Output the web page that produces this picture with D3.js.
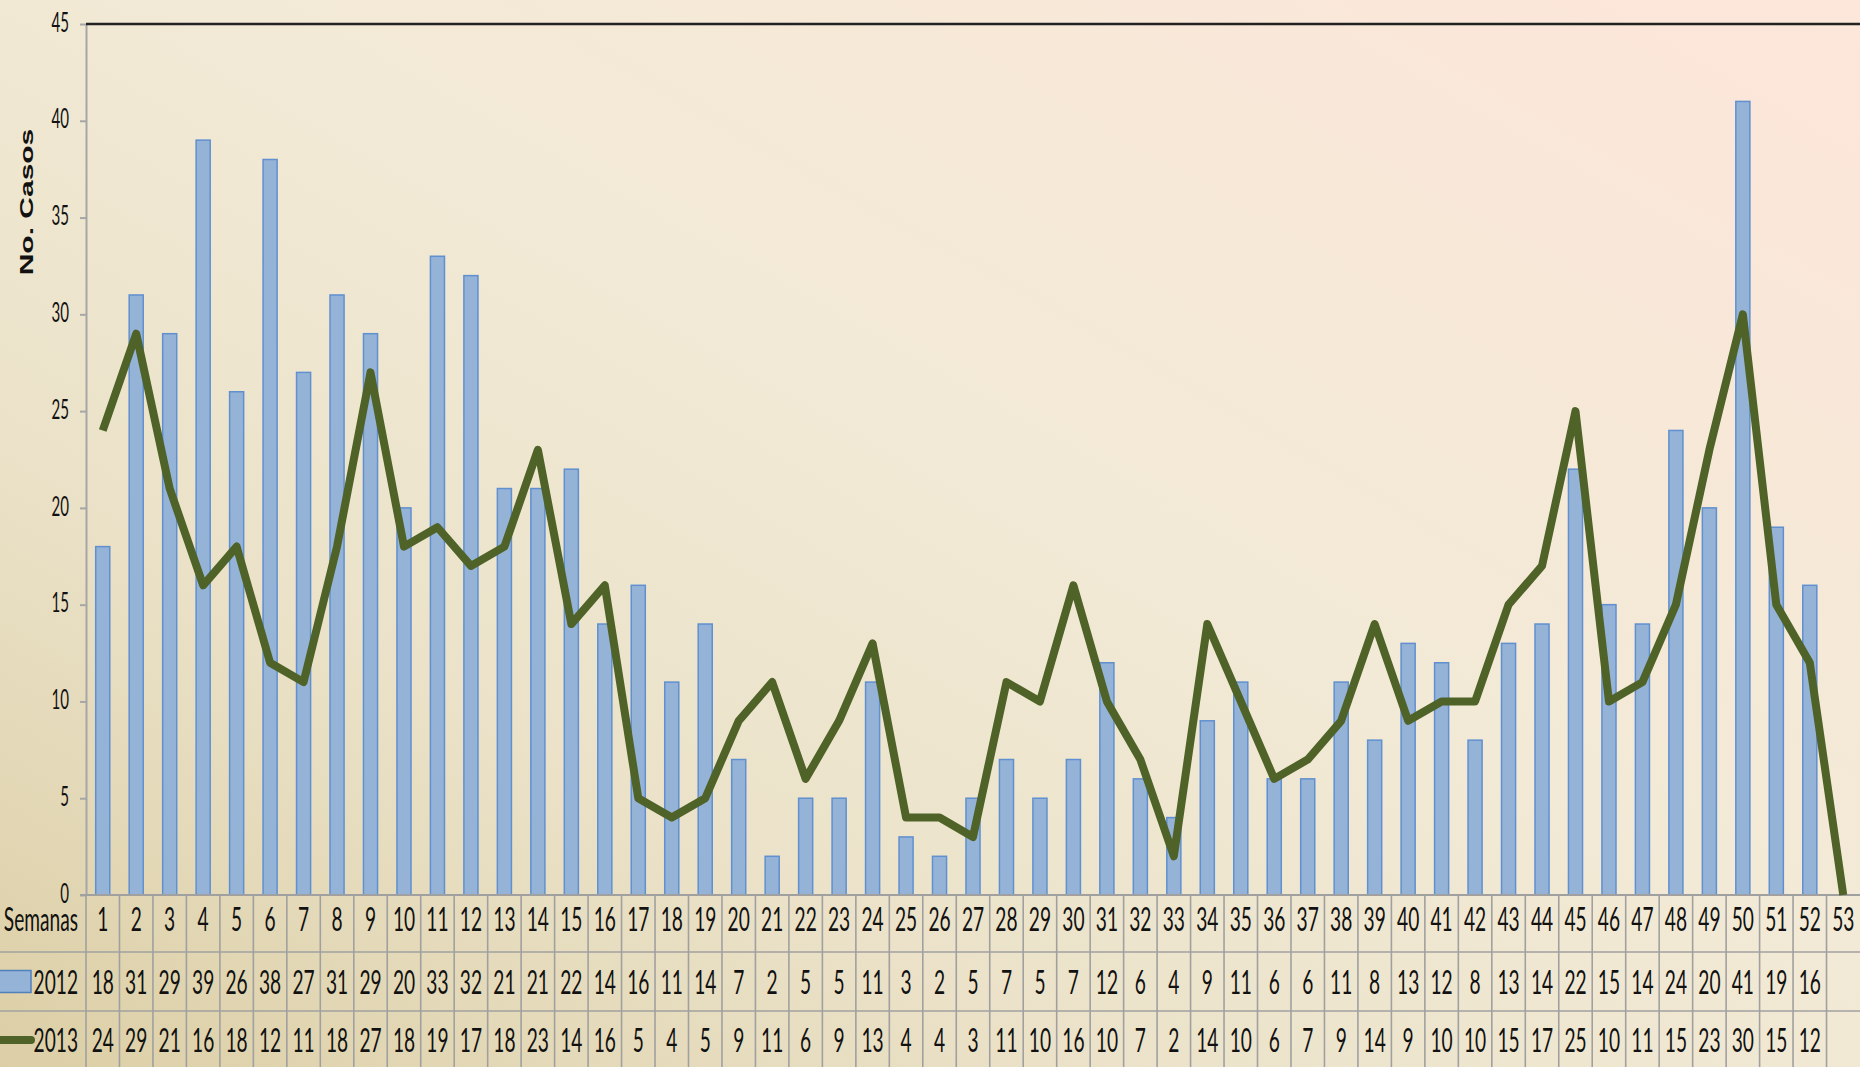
<!DOCTYPE html>
<html>
<head>
<meta charset="utf-8">
<script src="https://cdn.jsdelivr.net/npm/d3@7"></script>
<style>
  html, body { margin: 0; padding: 0; overflow: hidden; }
  text { font-family: Lato, "DejaVu Sans", sans-serif; fill: #111; }
</style>
</head>
<body>
<div id="chart"></div>
<script>
// weekly cases, 2012 vs 2013
const weeks = [1,2,3,4,5,6,7,8,9,10,11,12,13,14,15,16,17,18,19,20,21,22,23,24,25,26,27,
               28,29,30,31,32,33,34,35,36,37,38,39,40,41,42,43,44,45,46,47,48,49,50,51,52,53];
const cases2012 = [18,31,29,39,26,38,27,31,29,20,33,32,21,21,22,14,16,11,14,7,2,5,5,11,3,2,5,
                   7,5,7,12,6,4,9,11,6,6,11,8,13,12,8,13,14,22,15,14,24,20,41,19,16,null];
const cases2013 = [24,29,21,16,18,12,11,18,27,18,19,17,18,23,14,16,5,4,5,9,11,6,9,13,4,4,3,
                   11,10,16,10,7,2,14,10,6,7,9,14,9,10,10,15,17,25,10,11,15,23,30,15,12,null];
const yTicks = [0,5,10,15,20,25,30,35,40,45];
const seriesNames = ["2012", "2013"];

const W = 1860, H = 1067;
const plotLeft = 86, plotTop = 24, plotBottom = 895;
const rowLines = [895, 952, 1011, 1067];
const rowShift = [-5, 0, 0];
const squeeze = 0.58; // the picture is squashed sideways

let svg = d3.select("#chart").append("svg")
    .attr("width", W)
    .attr("height", H);

let grad = svg.append("defs").append("linearGradient")
    .attr("id", "bg")
    .attr("x1", "0").attr("y1", "1")
    .attr("x2", "1").attr("y2", "0");
grad.append("stop").attr("offset", "0").attr("stop-color", "#dccfa6");
grad.append("stop").attr("offset", "0.3").attr("stop-color", "#ebe2c9");
grad.append("stop").attr("offset", "0.55").attr("stop-color", "#f2ead6");
grad.append("stop").attr("offset", "1").attr("stop-color", "#fde6da");

svg.append("rect")
    .attr("width", W)
    .attr("height", H)
    .attr("fill", "url(#bg)");

let x = d3.scaleBand()
    .domain(weeks)
    .range([plotLeft, W]);

let y = d3.scaleLinear()
    .domain([0, 45])
    .range([plotBottom, plotTop]);

let bw = x.bandwidth();

// y axis
let yAxis = d3.axisLeft(y).tickValues(yTicks).tickSize(6).tickSizeOuter(0).tickFormat(d3.format("d"));
let gy = svg.append("g")
    .attr("transform", "translate(" + plotLeft + ",0)")
    .call(yAxis);
gy.select(".domain").attr("stroke", "#a6a6a6").attr("stroke-width", 2);
gy.selectAll(".tick line").attr("stroke", "#a6a6a6").attr("stroke-width", 2);
gy.selectAll(".tick text").remove();
gy.selectAll(".tick").append("text")
    .attr("transform", "translate(-17,-2) scale(" + squeeze + ",1)")
    .attr("dy", "0.35em")
    .style("text-anchor", "end")
    .style("font-size", "26px")
    .text(function(d) { return d; });

// top border
svg.append("line")
    .attr("x1", plotLeft).attr("x2", W)
    .attr("y1", plotTop).attr("y2", plotTop)
    .attr("stroke", "#222")
    .attr("stroke-width", 2.5);

svg.append("text")
    .attr("transform", "translate(26,202) rotate(-90) scale(1,0.62)")
    .attr("dy", "0.35em")
    .style("text-anchor", "middle")
    .style("font-family", "'Liberation Sans', Arial, sans-serif")
    .style("font-weight", "bold")
    .style("font-size", "30px")
    .text("No. Casos");

// bars 2012
svg.selectAll(".bar")
    .data(weeks.map(function(w, i) { return {week: w, v: cases2012[i]}; }).filter(function(d) { return d.v != null; }))
    .enter().append("rect")
    .attr("class", "bar")
    .attr("x", function(d) { return x(d.week) + bw * 0.29; })
    .attr("width", bw * 0.42)
    .attr("y", function(d) { return y(d.v); })
    .attr("height", function(d) { return y(0) - y(d.v); })
    .attr("fill", "#95b3d7")
    .attr("stroke", "#6090cf")
    .attr("stroke-width", 1.5);

// table grid
let grid = svg.append("g").attr("stroke", "#a0a0a0").attr("stroke-width", 1.6);
grid.append("line")
    .attr("x1", plotLeft - 6).attr("x2", W)
    .attr("y1", rowLines[0]).attr("y2", rowLines[0])
    .attr("stroke-width", 2);
grid.selectAll(".hrow")
    .data(rowLines.slice(1, 3))
    .enter().append("line")
    .attr("x1", 0).attr("x2", W)
    .attr("y1", function(d) { return d; }).attr("y2", function(d) { return d; });
grid.selectAll(".vcol")
    .data(weeks)
    .enter().append("line")
    .attr("x1", function(d) { return x(d); }).attr("x2", function(d) { return x(d); })
    .attr("y1", rowLines[0]).attr("y2", H);

// line 2013 (empty cells drawn as zero)
let line = d3.line()
    .x(function(d) { return x(d.week) + bw / 2; })
    .y(function(d) { return y(d.v == null ? 0 : d.v); });

svg.append("path")
    .datum(weeks.map(function(w, i) { return {week: w, v: cases2013[i]}; }))
    .attr("d", line)
    .attr("fill", "none")
    .attr("stroke", "#4f6228")
    .attr("stroke-width", 8)
    .attr("stroke-linejoin", "round");

// table text
let rows = [
    {label: "Semanas", values: weeks},
    {label: seriesNames[0], values: cases2012},
    {label: seriesNames[1], values: cases2013}
];

rows.forEach(function(r, ri) {
    let cy = (rowLines[ri] + rowLines[ri + 1]) / 2 + 1 + rowShift[ri];
    svg.append("text")
        .attr("transform", "translate(78," + cy + ") scale(" + squeeze + ",1)")
        .attr("dy", "0.35em")
        .style("text-anchor", "end")
        .style("font-size", "33px")
        .text(r.label);
    svg.selectAll(".cell" + ri)
        .data(weeks)
        .enter().append("text")
        .attr("transform", function(d) { return "translate(" + (x(d) + bw / 2) + "," + cy + ") scale(" + squeeze + ",1)"; })
        .attr("dy", "0.35em")
        .style("text-anchor", "middle")
        .style("font-size", "33px")
        .text(function(d, i) { return r.values[i] == null ? "" : r.values[i]; });
});

// legend keys in the table
let cy1 = (rowLines[1] + rowLines[2]) / 2;
let cy2 = (rowLines[2] + rowLines[3]) / 2;
svg.append("rect")
    .attr("x", -2).attr("y", cy1 - 11)
    .attr("width", 33).attr("height", 22)
    .attr("fill", "#95b3d7")
    .attr("stroke", "#4f81bd")
    .attr("stroke-width", 1.5);
svg.append("line")
    .attr("x1", 0).attr("x2", 31)
    .attr("y1", cy2 + 1).attr("y2", cy2 + 1)
    .attr("stroke", "#4f6228")
    .attr("stroke-width", 8)
    .attr("stroke-linecap", "round");
</script>
</body>
</html>
